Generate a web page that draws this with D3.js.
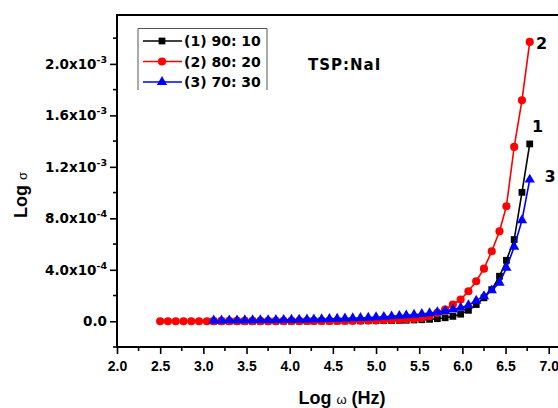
<!DOCTYPE html>
<html><head><meta charset="utf-8">
<script src="https://cdn.jsdelivr.net/npm/d3@7"></script>
<style>body{margin:0;background:#fff}svg{display:block}</style>
</head><body><svg id="c" width="558" height="408"></svg>
<script>
// ---- data ----
const xRed = [2.50,2.59,2.68,2.77,2.86,2.95,3.04,3.12,3.21,3.30,3.39,3.48,3.57,3.66,3.75,3.84,3.93,4.02,4.11,4.20,4.28,4.37,4.46,4.55,4.64,4.73,4.82,4.91,5.00,5.09,5.18,5.27,5.35,5.44,5.53,5.62,5.71,5.80,5.89,5.98,6.07,6.16,6.25,6.34,6.43,6.51,6.60,6.69,6.78];
const yRed = [0,0,0,0,0,0,0,0,0.001e-3,0.001e-3,0.001e-3,0.001e-3,0.001e-3,0.001e-3,0.001e-3,0.001e-3,0.002e-3,0.002e-3,0.002e-3,0.002e-3,0.002e-3,0.003e-3,0.003e-3,0.003e-3,0.004e-3,0.004e-3,0.005e-3,0.006e-3,0.007e-3,0.008e-3,0.010e-3,0.012e-3,0.015e-3,0.019e-3,0.026e-3,0.039e-3,0.065e-3,0.091e-3,0.130e-3,0.169e-3,0.233e-3,0.311e-3,0.409e-3,0.544e-3,0.699e-3,0.894e-3,1.355e-3,1.717e-3,2.171e-3];
const xBB = [3.12,3.21,3.30,3.39,3.48,3.57,3.66,3.75,3.84,3.93,4.02,4.11,4.20,4.28,4.37,4.46,4.55,4.64,4.73,4.82,4.91,5.00,5.09,5.18,5.27,5.35,5.44,5.53,5.62,5.71,5.80,5.89,5.98,6.07,6.16,6.25,6.34,6.43,6.51,6.60,6.69,6.78];
const yBlack = [0.001e-3,0.001e-3,0.001e-3,0.001e-3,0.001e-3,0.001e-3,0.001e-3,0.001e-3,0.001e-3,0.001e-3,0.001e-3,0.001e-3,0.001e-3,0.002e-3,0.002e-3,0.002e-3,0.002e-3,0.002e-3,0.003e-3,0.003e-3,0.004e-3,0.004e-3,0.005e-3,0.006e-3,0.007e-3,0.008e-3,0.010e-3,0.012e-3,0.015e-3,0.020e-3,0.027e-3,0.038e-3,0.055e-3,0.085e-3,0.130e-3,0.182e-3,0.246e-3,0.350e-3,0.474e-3,0.635e-3,1.002e-3,1.378e-3];
const yBlue = [0.006e-3,0.006e-3,0.007e-3,0.007e-3,0.008e-3,0.008e-3,0.009e-3,0.009e-3,0.010e-3,0.011e-3,0.012e-3,0.013e-3,0.014e-3,0.015e-3,0.016e-3,0.018e-3,0.019e-3,0.021e-3,0.023e-3,0.025e-3,0.028e-3,0.031e-3,0.034e-3,0.038e-3,0.042e-3,0.046e-3,0.051e-3,0.056e-3,0.063e-3,0.071e-3,0.080e-3,0.091e-3,0.105e-3,0.125e-3,0.160e-3,0.195e-3,0.240e-3,0.300e-3,0.415e-3,0.578e-3,0.785e-3,1.101e-3];
const seriesNames = ["(1) 90: 10","(2) 80: 20","(3) 70: 30"];
const curveLabels = ["1","2","3"];
const xTicks = [2.0,2.5,3.0,3.5,4.0,4.5,5.0,5.5,6.0,6.5,7.0];
const xTickLabels = ["2.0","2.5","3.0","3.5","4.0","4.5","5.0","5.5","6.0","6.5","7.0"];
const yTicks = [0,4e-4,8e-4,1.2e-3,1.6e-3,2.0e-3];
const yTickMant = ["0.0","4.0x10","8.0x10","1.2x10","1.6x10","2.0x10"];
const yTickExp = ["","-4","-4","-3","-3","-3"];
const annotation = "TSP:NaI";
const xTitle = ["Log ","\u03c9"," (Hz)"];
const yTitle = ["Log ","\u03c3"];

// ---- layout ----
const svg = d3.select("#c");
const L = 117, T = 15, B = 347, R = 566;
const x = d3.scaleLinear().domain([2.0, 7.2]).range([L, R]);
const y = d3.scaleLinear().domain([-0.2e-3, 2.38e-3]).range([B, T]);
const tickFont = "'Liberation Sans', Arial, sans-serif";
const boldFont = "'DejaVu Sans', Verdana, sans-serif";

// axes
const xMinor = d3.range(2.25, 7.2, 0.5);
const gx = svg.append("g").attr("transform",`translate(0,${B})`);
gx.call(d3.axisBottom(x).tickValues(xTicks).tickFormat((d,i)=>xTickLabels[i]).tickSize(7).tickPadding(4));
gx.selectAll(".minor").data(xMinor).enter().append("line")
  .attr("x1",d=>x(d)).attr("x2",d=>x(d)).attr("y1",0).attr("y2",4).attr("stroke","#000").attr("stroke-width",1.6);
const gy = svg.append("g").attr("transform",`translate(${L},0)`);
gy.call(d3.axisLeft(y).tickValues(yTicks).tickFormat("").tickSize(7));
const yMinor = [-2e-4,2e-4,6e-4,1.0e-3,1.4e-3,1.8e-3,2.2e-3];
gy.selectAll(".minor").data(yMinor).enter().append("line")
  .attr("x1",0).attr("x2",-4).attr("y1",d=>y(d)).attr("y2",d=>y(d)).attr("stroke","#000").attr("stroke-width",1.6);
[gx,gy].forEach(g=>{
  g.select(".domain").remove();
  g.selectAll(".tick line").attr("stroke-width",1.6);
  g.selectAll("text").attr("font-family",tickFont).attr("font-weight","bold").attr("font-size",14).attr("fill","#000");
});
gx.selectAll(".tick text").attr("dy","0.9em");
// y tick labels with superscripts
const yl = svg.append("g");
yTicks.forEach((v,i)=>{
  const t = yl.append("text").attr("x",L-10).attr("y",y(v)+5).attr("text-anchor","end")
    .attr("font-family",boldFont).attr("font-weight","bold").attr("font-size",13.5);
  t.append("tspan").text(yTickMant[i]);
  if (yTickExp[i]) t.append("tspan").attr("font-size",9.5).attr("dy",-6).text(yTickExp[i]);
});
// frame
svg.append("rect").attr("x",L).attr("y",T).attr("width",R-L).attr("height",B-T)
  .attr("fill","none").attr("stroke","#000").attr("stroke-width",2);

// series
const data = [
  {x:xBB, y:yBlack, color:"#000000", sym:d3.symbolSquare, size:46},
  {x:xRed, y:yRed, color:"#ff0000", sym:d3.symbolCircle, size:52},
  {x:xBB, y:yBlue, color:"#0000ff", sym:d3.symbolTriangle, size:46}
];
const line = d3.line().x(d=>x(d[0])).y(d=>y(d[1]));
data.forEach(s=>{
  const pts = s.x.map((v,i)=>[v,s.y[i]]);
  const g = svg.append("g");
  g.append("path").attr("d",line(pts)).attr("fill","none").attr("stroke",s.color).attr("stroke-width",1.6);
  g.selectAll("path.m").data(pts).enter().append("path").attr("class","m")
    .attr("d",d3.symbol().type(s.sym).size(s.size))
    .attr("transform",d=>`translate(${x(d[0])},${y(d[1])})`).attr("fill",s.color);
});

// curve labels
const labPos = [[537.5,132],[541.5,49],[550,182]];
curveLabels.forEach((t,i)=>{
  svg.append("text").attr("x",labPos[i][0]).attr("y",labPos[i][1]).attr("text-anchor","middle")
    .attr("font-family",boldFont).attr("font-weight","bold").attr("font-size",16).text(t);
});

// legend
const lg = svg.append("g");
lg.append("path").attr("d","M138,90 V28.5 H267 V90").attr("fill","none").attr("stroke","#555").attr("stroke-width",1);
data.forEach((s,i)=>{
  const yy = 41 + i*20.5;
  lg.append("line").attr("x1",143).attr("x2",182).attr("y1",yy).attr("y2",yy).attr("stroke",s.color).attr("stroke-width",1.6);
  lg.append("path").attr("d",d3.symbol().type(s.sym).size(s.size)).attr("transform",`translate(162,${yy})`).attr("fill",s.color);
  lg.append("text").attr("x",184).attr("y",yy+5).attr("font-family",boldFont).attr("font-weight","bold").attr("font-size",14).text(seriesNames[i]);
});

// annotation
svg.append("text").attr("x",308).attr("y",70).attr("font-family",boldFont).attr("font-weight","bold")
  .attr("font-size",15).attr("letter-spacing",1).text(annotation);

// axis titles
const xt = svg.append("text").attr("x",342).attr("y",404).attr("text-anchor","middle")
  .attr("font-family",tickFont).attr("font-weight","bold").attr("font-size",18);
xt.append("tspan").text(xTitle[0]);
xt.append("tspan").attr("font-size",13).attr("font-weight","normal").text(xTitle[1]);
xt.append("tspan").text(xTitle[2]);
const yt = svg.append("text").attr("transform","translate(27,195) rotate(-90)").attr("text-anchor","middle")
  .attr("font-family",tickFont).attr("font-weight","bold").attr("font-size",18);
yt.append("tspan").text(yTitle[0]);
yt.append("tspan").attr("font-size",13).attr("font-weight","normal").text(yTitle[1]);
</script></body></html>
